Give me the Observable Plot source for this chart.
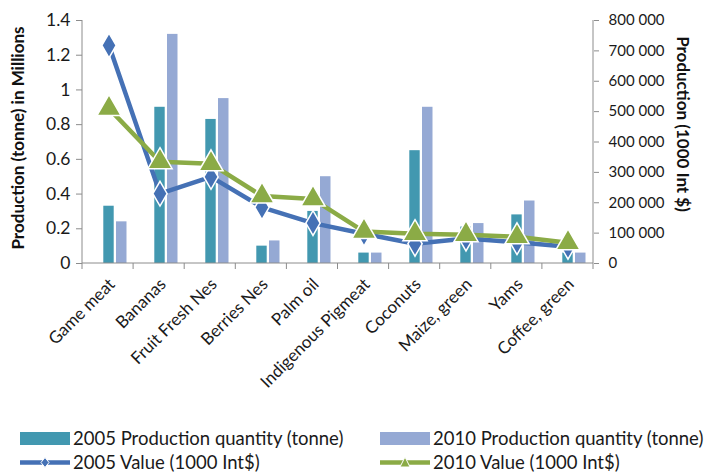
<!DOCTYPE html>
<html>
<head>
<meta charset="utf-8">
<script src="https://cdn.jsdelivr.net/npm/d3@7"></script>
<script src="https://cdn.jsdelivr.net/npm/@observablehq/plot@0.6"></script>
<style>
  html, body { margin: 0; padding: 0; background: #fff; }
  body { width: 704px; height: 472px; position: relative; overflow: hidden; font-family: Lato, "Open Sans", sans-serif; }
  #chart { position: absolute; left: 0; top: 0; }
  .lg { position: absolute; font-size: 18.5px; color: #1a1a1a; display: flex; align-items: center; white-space: nowrap; line-height: 1; }
  .lg svg { margin-right: 3px; }
</style>
</head>
<body>
<div id="chart"></div>
<div id="legend"></div>
<script>
const categories = ["Game meat","Bananas","Fruit Fresh Nes","Berries Nes","Palm oil","Indigenous Pigmeat","Coconuts","Maize, green","Yams","Coffee, green"];
const qty2005 = [0.33,0.90,0.83,0.10,0.30,0.06,0.65,0.21,0.28,0.06];
const qty2010 = [0.24,1.32,0.95,0.13,0.50,0.06,0.90,0.23,0.36,0.06];
const val2005 = [718000,230000,285000,185000,133000,98000,65000,82000,70000,55000];
const val2010 = [510000,335000,328000,222000,212000,105000,98000,95000,88000,68000];
const leftTicks = [0,0.2,0.4,0.6,0.8,1.0,1.2,1.4];
const rightTicks = [0,100000,200000,300000,400000,500000,600000,700000,800000];
const seriesNames = ["2005 Production quantity (tonne)","2010 Production quantity (tonne)","2005 Value (1000 Int$)","2010 Value (1000 Int$)"];
const leftTitle = "Production (tonne) in Millions";
const rightTitle = "Production (1000 Int $)";

const colTeal = "#4298B0", colLav = "#95A9D4", colBlue = "#4571B5", colGreen = "#8BAB46";
const leftMax = 1.4, rightMax = 800000;
const k = leftMax / rightMax;

const rows = categories.map((c, i) => ({cat: c, q05: qty2005[i], q10: qty2010[i], v05: val2005[i] * k, v10: val2010[i] * k}));
const fmtR = d3.formatLocale({decimal: ".", thousands: " ", grouping: [3], currency: ["", ""]}).format(",");
const fmtL = d => String(Math.round(d * 10) / 10);

const axisLines = (index, scales, values, dim) => {
  const g = d3.create("svg:g").attr("stroke", "#8c8c8c").attr("stroke-width", 1).attr("fill", "none");
  const x0 = dim.marginLeft, x1 = dim.width - dim.marginRight;
  const y0 = dim.marginTop, y1 = dim.height - dim.marginBottom;
  g.append("line").attr("x1", x0).attr("x2", x0).attr("y1", y0).attr("y2", y1);
  g.append("line").attr("x1", x1).attr("x2", x1).attr("y1", y0).attr("y2", y1);
  g.append("line").attr("x1", x0).attr("x2", x1).attr("y1", y1).attr("y2", y1);
  const n = categories.length;
  for (let i = 0; i <= n; i++) {
    const x = x0 + (x1 - x0) * i / n;
    g.append("line").attr("x1", x).attr("x2", x).attr("y1", y1).attr("y2", y1 + 6);
  }
  return g.node();
};

const plot = Plot.plot({
  width: 704,
  height: 415,
  marginTop: 20,
  marginBottom: 152,
  marginLeft: 82,
  marginRight: 111,
  style: {fontFamily: "Lato, 'Open Sans', sans-serif", color: "#1a1a1a", background: "white"},
  x: {type: "band", domain: categories, padding: 0},
  y: {domain: [0, leftMax]},
  marks: [
    Plot.barY(rows, {x: "cat", y: "q05", fill: colTeal, insetLeft: 20.3, insetRight: 20.3}),
    Plot.barY(rows, {x: "cat", y: "q10", fill: colLav, insetLeft: 33, insetRight: 7.5}),
    axisLines,
    Plot.axisY(leftTicks, {anchor: "left", tickFormat: fmtL, tickSize: 6, tickPadding: 6, fontSize: 17.5, stroke: "#8c8c8c", label: null}),
    Plot.axisY(rightTicks.map(v => v * k), {anchor: "right", tickFormat: d => fmtR(Math.round(d / k)), tickSize: 5, tickPadding: 10, fontSize: 15, stroke: "#8c8c8c", label: null}),
    Plot.axisX({tickRotate: -45, tickSize: 0, tickPadding: 18, dx: 3, fontSize: 17, label: null}),
    Plot.line(rows, {x: "cat", y: "v05", stroke: colBlue, strokeWidth: 4.5}),
    Plot.dot(rows, {x: "cat", y: "v05", symbol: "diamond", r: 7.5, fill: colBlue, stroke: "white", strokeWidth: 1.5}),
    Plot.line(rows, {x: "cat", y: "v10", stroke: colGreen, strokeWidth: 4.5}),
    Plot.dot(rows, {x: "cat", y: "v10", symbol: "triangle", r: 9, fill: colGreen, stroke: "white", strokeWidth: 1.5}),
    Plot.text([leftTitle], {frameAnchor: "left", textAnchor: "middle", dx: -64, dy: -4, rotate: -90, fontSize: 17, fontWeight: "bold", fill: "#111"}),
    Plot.text([rightTitle], {frameAnchor: "right", textAnchor: "middle", dx: 89, dy: -18, rotate: 90, fontSize: 17, fontWeight: "bold", fill: "#111"})
  ]
});
document.getElementById("chart").appendChild(plot);

// Legend
const legend = document.getElementById("legend");
function swatchRect(color) {
  return `<svg width="50" height="13"><rect x="0" y="0" width="50" height="13" fill="${color}"/></svg>`;
}
function swatchLine(color, sym) {
  const marker = sym === "diamond"
    ? `<path d="M25,1.5 L29,6.5 L25,11.5 L21,6.5 Z" fill="${color}" stroke="white" stroke-width="1"/>`
    : `<path d="M25,1 L30,11 L20,11 Z" fill="${color}" stroke="white" stroke-width="1"/>`;
  return `<svg width="50" height="13"><line x1="0" x2="50" y1="6.5" y2="6.5" stroke="${color}" stroke-width="4.5"/>${marker}</svg>`;
}
const items = [
  {left: 20, top: 429, sw: swatchRect(colTeal), text: seriesNames[0]},
  {left: 380, top: 429, sw: swatchRect(colLav), text: seriesNames[1]},
  {left: 20, top: 453, sw: swatchLine(colBlue, "diamond"), text: seriesNames[2]},
  {left: 380, top: 453, sw: swatchLine(colGreen, "triangle"), text: seriesNames[3]}
];
for (const it of items) {
  const d = document.createElement("div");
  d.className = "lg";
  d.style.left = it.left + "px";
  d.style.top = it.top + "px";
  d.innerHTML = it.sw + `<span>${it.text}</span>`;
  legend.appendChild(d);
}
</script>
</body>
</html>
